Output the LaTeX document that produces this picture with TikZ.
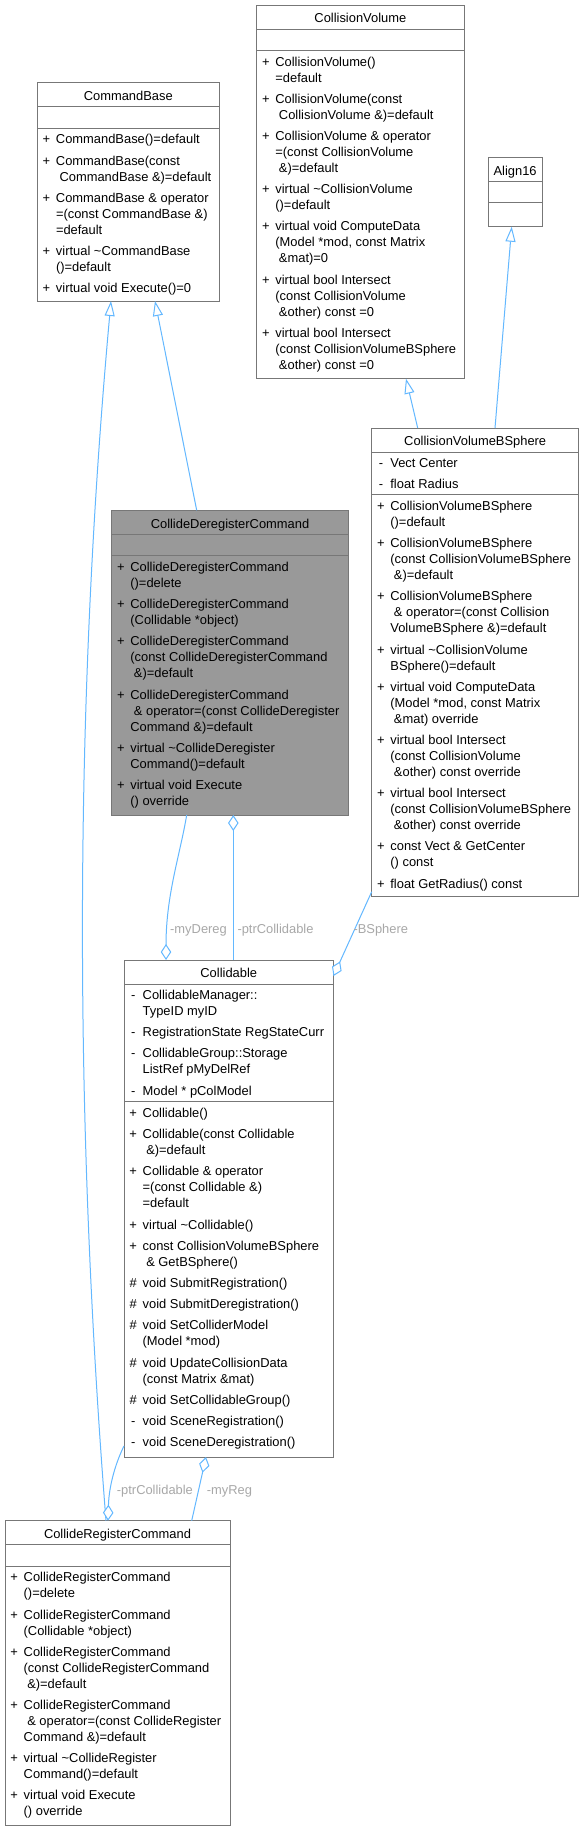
\documentclass[tikz,border=0pt]{standalone}
\usepackage{fontspec}
\setmainfont{Liberation Sans}
\usetikzlibrary{arrows.meta}
\definecolor{bordercol}{HTML}{777777}
\definecolor{hlfill}{HTML}{999999}
\definecolor{edgecol}{HTML}{63B8FF}
\definecolor{labcol}{HTML}{A8A8A8}
\newcommand\umlfnt{\fontsize{12.9}{16}\selectfont}
\newcommand\symP{\makebox[10pt]{+}}
\newcommand\symM{\makebox[10pt]{-}}
\newcommand\symH{\makebox[10pt]{\#}}
\newcommand\eg{5.2pt}
\newcommand\tld{\textasciitilde}
\tikzset{
  box/.style={draw=bordercol, line width=1pt, fill=white, inner sep=0pt, outer sep=0pt, anchor=north west},
  hbox/.style={box, fill=hlfill},
  ttl/.style={font=\umlfnt, inner sep=0pt, anchor=base},
  mem/.style={font=\umlfnt, inner sep=0pt, anchor=north west},
  sep/.style={draw=bordercol, line width=1pt},
  edge/.style={draw=edgecol, line width=1pt},
  inh/.style={edge, -{Triangle[length=15pt,width=10pt,fill=white]}},
  agg/.style={edge, -{Diamond[length=16pt,width=10.5pt,fill=white]}},
  elab/.style={font=\umlfnt, text=labcol, inner sep=0pt, anchor=base west},
}
\begin{document}
\begin{tikzpicture}[x=1pt,y=-1pt]
\fill[white] (0,0) rectangle (584,1831);
\useasboundingbox (0,0) rectangle (584,1831);

% ---------- CommandBase
\node[box, minimum width=182pt, minimum height=218.3pt] (cb) at (37.3,82.7) {};
\node[ttl] (cb-t) at ([yshift=-17.8pt]cb.north) {CommandBase};
\draw[sep] ([yshift=-24pt]cb.north west) -- ([yshift=-24pt]cb.north east);
\draw[sep] ([yshift=-45.3pt]cb.north west) -- ([yshift=-45.3pt]cb.north east);
\node[mem] (cb-m) at ([xshift=4pt,yshift=-49.7pt]cb.north west) {\begin{tabular}{@{}l@{\hspace{4.5pt}}l@{}}
\symP & CommandBase()=default\\[\eg]
\symP & CommandBase(const\\
 & ~CommandBase \&)=default\\[\eg]
\symP & CommandBase \& operator\\
 & =(const CommandBase \&)\\
 & =default\\[\eg]
\symP & virtual \tld CommandBase\\
 & ()=default\\[\eg]
\symP & virtual void Execute()=0
\end{tabular}};

% ---------- CollisionVolume
\node[box, minimum width=207.3pt, minimum height=373.7pt] (cv) at (256.7,5) {};
\node[ttl] (cv-t) at ([yshift=-17.8pt]cv.north) {CollisionVolume};
\draw[sep] ([yshift=-24pt]cv.north west) -- ([yshift=-24pt]cv.north east);
\draw[sep] ([yshift=-45.3pt]cv.north west) -- ([yshift=-45.3pt]cv.north east);
\node[mem] (cv-m) at ([xshift=4pt,yshift=-49.7pt]cv.north west) {\begin{tabular}{@{}l@{\hspace{4.5pt}}l@{}}
\symP & CollisionVolume()\\
 & =default\\[\eg]
\symP & CollisionVolume(const\\
 & ~CollisionVolume \&)=default\\[\eg]
\symP & CollisionVolume \& operator\\
 & =(const CollisionVolume\\
 & ~\&)=default\\[\eg]
\symP & virtual \tld CollisionVolume\\
 & ()=default\\[\eg]
\symP & virtual void ComputeData\\
 & (Model *mod, const Matrix\\
 & ~\&mat)=0\\[\eg]
\symP & virtual bool Intersect\\
 & (const CollisionVolume\\
 & ~\&other) const =0\\[\eg]
\symP & virtual bool Intersect\\
 & (const CollisionVolumeBSphere\\
 & ~\&other) const =0
\end{tabular}};

% ---------- Align16
\node[box, minimum width=54.3pt, minimum height=69.4pt] (al) at (488,157.3) {};
\node[ttl] (al-t) at ([yshift=-17.8pt]al.north) {Align16};
\draw[sep] ([yshift=-24pt]al.north west) -- ([yshift=-24pt]al.north east);
\draw[sep] ([yshift=-45.3pt]al.north west) -- ([yshift=-45.3pt]al.north east);

% ---------- CollisionVolumeBSphere
\node[box, minimum width=207pt, minimum height=468.7pt] (cvb) at (371.7,428) {};
\node[ttl] (cvb-t) at ([yshift=-17.8pt]cvb.north) {CollisionVolumeBSphere};
\draw[sep] ([yshift=-24pt]cvb.north west) -- ([yshift=-24pt]cvb.north east);
\draw[sep] ([yshift=-66.7pt]cvb.north west) -- ([yshift=-66.7pt]cvb.north east);
\node[mem] (cvb-a) at ([xshift=4pt,yshift=-28.1pt]cvb.north west) {\begin{tabular}{@{}l@{\hspace{4.5pt}}l@{}}
\symM & Vect Center\\[\eg]
\symM & float Radius
\end{tabular}};
\node[mem] (cvb-m) at ([xshift=4pt,yshift=-71.1pt]cvb.north west) {\begin{tabular}{@{}l@{\hspace{4.5pt}}l@{}}
\symP & CollisionVolumeBSphere\\
 & ()=default\\[\eg]
\symP & CollisionVolumeBSphere\\
 & (const CollisionVolumeBSphere\\
 & ~\&)=default\\[\eg]
\symP & CollisionVolumeBSphere\\
 & ~\& operator=(const Collision\\
 & VolumeBSphere \&)=default\\[\eg]
\symP & virtual \tld CollisionVolume\\
 & BSphere()=default\\[\eg]
\symP & virtual void ComputeData\\
 & (Model *mod, const Matrix\\
 & ~\&mat) override\\[\eg]
\symP & virtual bool Intersect\\
 & (const CollisionVolume\\
 & ~\&other) const override\\[\eg]
\symP & virtual bool Intersect\\
 & (const CollisionVolumeBSphere\\
 & ~\&other) const override\\[\eg]
\symP & const Vect \& GetCenter\\
 & () const\\[\eg]
\symP & float GetRadius() const
\end{tabular}};

% ---------- CollideDeregisterCommand
\node[hbox, minimum width=236.6pt, minimum height=304.7pt] (cdc) at (111.7,510.3) {};
\node[ttl] (cdc-t) at ([yshift=-17.8pt]cdc.north) {CollideDeregisterCommand};
\draw[sep] ([yshift=-24pt]cdc.north west) -- ([yshift=-24pt]cdc.north east);
\draw[sep] ([yshift=-45.3pt]cdc.north west) -- ([yshift=-45.3pt]cdc.north east);
\node[mem] (cdc-m) at ([xshift=4pt,yshift=-49.7pt]cdc.north west) {\begin{tabular}{@{}l@{\hspace{4.5pt}}l@{}}
\symP & CollideDeregisterCommand\\
 & ()=delete\\[\eg]
\symP & CollideDeregisterCommand\\
 & (Collidable *object)\\[\eg]
\symP & CollideDeregisterCommand\\
 & (const CollideDeregisterCommand\\
 & ~\&)=default\\[\eg]
\symP & CollideDeregisterCommand\\
 & ~\& operator=(const CollideDeregister\\
 & Command \&)=default\\[\eg]
\symP & virtual \tld CollideDeregister\\
 & Command()=default\\[\eg]
\symP & virtual void Execute\\
 & () override
\end{tabular}};

% ---------- Collidable
\node[box, minimum width=209.5pt, minimum height=497pt] (col) at (124,960) {};
\node[ttl] (col-t) at ([yshift=-17.8pt]col.north) {Collidable};
\draw[sep] ([yshift=-24pt]col.north west) -- ([yshift=-24pt]col.north east);
\draw[sep] ([yshift=-141.6pt]col.north west) -- ([yshift=-141.6pt]col.north east);
\node[mem] (col-a) at ([xshift=4pt,yshift=-28.1pt]col.north west) {\begin{tabular}{@{}l@{\hspace{4.5pt}}l@{}}
\symM & CollidableManager::\\
 & TypeID myID\\[\eg]
\symM & RegistrationState RegStateCurr\\[\eg]
\symM & CollidableGroup::Storage\\
 & ListRef pMyDelRef\\[\eg]
\symM & Model * pColModel
\end{tabular}};
\node[mem] (col-m) at ([xshift=4pt,yshift=-146pt]col.north west) {\begin{tabular}{@{}l@{\hspace{4.5pt}}l@{}}
\symP & Collidable()\\[\eg]
\symP & Collidable(const Collidable\\
 & ~\&)=default\\[\eg]
\symP & Collidable \& operator\\
 & =(const Collidable \&)\\
 & =default\\[\eg]
\symP & virtual \tld Collidable()\\[\eg]
\symP & const CollisionVolumeBSphere\\
 & ~\& GetBSphere()\\[\eg]
\symH & void SubmitRegistration()\\[\eg]
\symH & void SubmitDeregistration()\\[\eg]
\symH & void SetColliderModel\\
 & (Model *mod)\\[\eg]
\symH & void UpdateCollisionData\\
 & (const Matrix \&mat)\\[\eg]
\symH & void SetCollidableGroup()\\[\eg]
\symM & void SceneRegistration()\\[\eg]
\symM & void SceneDeregistration()
\end{tabular}};

% ---------- CollideRegisterCommand
\node[box, minimum width=225pt, minimum height=305pt] (crc) at (5,1520.7) {};
\node[ttl] (crc-t) at ([yshift=-17.8pt]crc.north) {CollideRegisterCommand};
\draw[sep] ([yshift=-24pt]crc.north west) -- ([yshift=-24pt]crc.north east);
\draw[sep] ([yshift=-45.3pt]crc.north west) -- ([yshift=-45.3pt]crc.north east);
\node[mem] (crc-m) at ([xshift=4pt,yshift=-49.7pt]crc.north west) {\begin{tabular}{@{}l@{\hspace{4.5pt}}l@{}}
\symP & CollideRegisterCommand\\
 & ()=delete\\[\eg]
\symP & CollideRegisterCommand\\
 & (Collidable *object)\\[\eg]
\symP & CollideRegisterCommand\\
 & (const CollideRegisterCommand\\
 & ~\&)=default\\[\eg]
\symP & CollideRegisterCommand\\
 & ~\& operator=(const CollideRegister\\
 & Command \&)=default\\[\eg]
\symP & virtual \tld CollideRegister\\
 & Command()=default\\[\eg]
\symP & virtual void Execute\\
 & () override
\end{tabular}};

% ---------- edges
\draw[inh] ([xshift=85pt]cdc.north west) -- ([xshift=117.7pt]cb.south west);
\draw[inh] ([xshift=101pt]crc.north west) .. controls (74,1114) and (74,708) .. ([xshift=73.7pt]cb.south west);
\draw[inh] ([xshift=46pt]cvb.north west) -- ([xshift=149.3pt]cv.south west);
\draw[inh] ([xshift=123.3pt]cvb.north west) -- ([xshift=23.7pt]al.south west);
\draw[agg] ([xshift=75pt]cdc.south west) .. controls (180,855) and (166,895) .. ([xshift=42pt]col.north west);
\draw[agg] ([xshift=109.3pt]col.north west) -- ([xshift=121.6pt]cdc.south west);
\draw[agg] ([yshift=-463.7pt]cvb.north west) -- ([yshift=-16pt]col.north east);
\draw[agg] ([xshift=186.7pt]crc.north west) -- ([xshift=82pt]col.south west);
\draw[agg] ([yshift=11pt]col.south west) .. controls (116,1462) and (109,1485) .. ([xshift=103pt]crc.north west);

% ---------- edge labels
\node[elab] (l-mydereg) at (170,933.6) {-myDereg};
\node[elab] (l-ptr1) at (237.3,933.6) {-ptrCollidable};
\node[elab] (l-bsphere) at (353.3,933.6) {-BSphere};
\node[elab] (l-ptr2) at (116.7,1494.6) {-ptrCollidable};
\node[elab] (l-myreg) at (206.7,1494.6) {-myReg};
\end{tikzpicture}
\end{document}
